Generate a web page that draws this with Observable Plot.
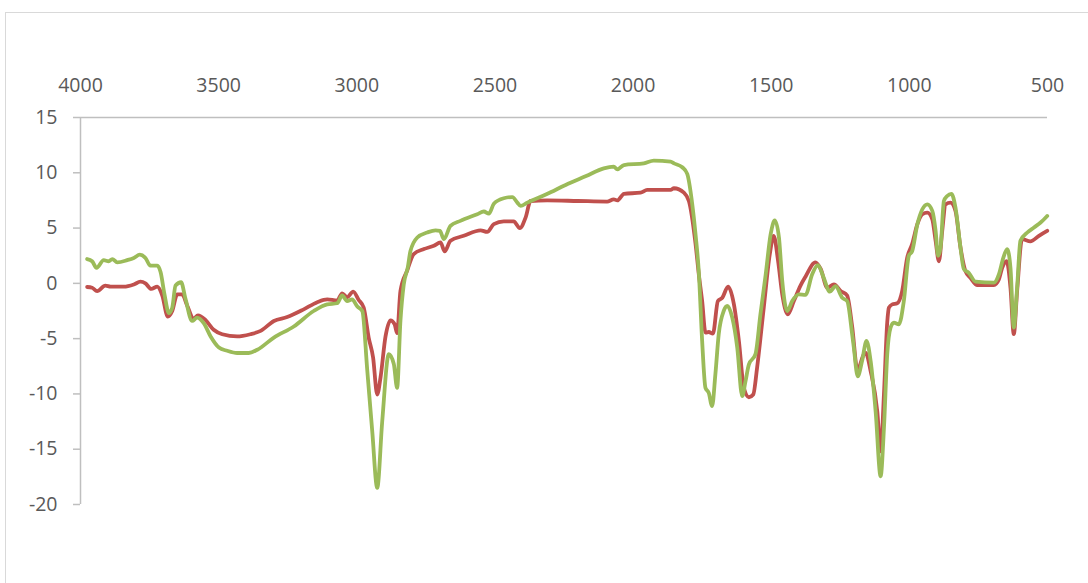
<!DOCTYPE html>
<html><head><meta charset="utf-8">
<script src="https://cdn.jsdelivr.net/npm/d3@7"></script>
<script src="https://cdn.jsdelivr.net/npm/@observablehq/plot@0.6"></script>
<style>
body{margin:0;background:#fff;overflow:hidden;width:1088px;height:583px}
#frame{position:absolute;left:5px;top:12px;width:1200px;height:700px;border:1px solid #d9d9d9;}
#chart{position:absolute;left:0;top:0}
</style></head><body>
<div id="frame"></div><div id="chart"></div>
<script>
const xTicks = [4000, 3500, 3000, 2500, 2000, 1500, 1000, 500];
const yTicks = [15, 10, 5, 0, -5, -10, -15, -20];

const redX = [3976,3958,3940,3910,3891,3843,3807,3783,3765,3744,3722,3704,3684,3668,3650,3632,3614,3590,3575,3548,3518,3487,3433,3385,3348,3300,3252,3192,3143,3107,3071,3053,3035,3013,2993,2975,2957,2941,2926,2914,2896,2878,2863,2854,2842,2817,2794,2757,2721,2697,2682,2661,2613,2552,2528,2504,2468,2432,2410,2389,2371,2311,2200,2094,2070,2057,2033,1973,1949,1864,1852,1816,1798,1774,1762,1750,1738,1726,1711,1693,1677,1656,1635,1617,1599,1581,1565,1551,1527,1505,1491,1475,1460,1440,1418,1394,1376,1340,1321,1297,1273,1248,1225,1207,1188,1164,1158,1140,1116,1104,1092,1080,1074,1062,1044,1026,1008,990,971,953,935,917,905,893,881,869,851,833,815,797,779,754,694,676,664,648,634,622,610,592,562,531,501];
const redY = [-0.33,-0.4,-0.7,-0.2,-0.3,-0.3,-0.1,0.15,0.0,-0.5,-0.3,-1.1,-3.0,-2.5,-1.0,-1.0,-2.0,-3.2,-2.9,-3.3,-4.2,-4.6,-4.8,-4.6,-4.3,-3.4,-3.05,-2.35,-1.7,-1.45,-1.55,-0.9,-1.25,-0.75,-1.5,-2.2,-4.9,-6.7,-10.05,-8.5,-4.8,-3.35,-3.7,-4.5,-0.7,1.2,2.65,3.1,3.4,3.7,2.9,3.85,4.3,4.8,4.65,5.35,5.6,5.6,5.0,5.95,7.45,7.5,7.45,7.4,7.6,7.5,8.1,8.2,8.45,8.45,8.6,8.2,7.45,3.6,0.8,-1.6,-4.45,-4.4,-4.55,-1.6,-1.3,-0.3,-1.9,-5.2,-9.45,-10.3,-10.05,-7.6,-2.2,2.65,4.3,2.0,-1.0,-2.8,-1.6,-0.2,0.6,1.9,1.3,-0.4,-0.1,-0.7,-1.1,-3.9,-7.8,-6.4,-6.3,-7.95,-11.6,-15.2,-10.05,-3.5,-2.2,-1.9,-1.8,-0.7,2.3,3.55,5.35,6.25,6.4,5.8,3.85,2.0,4.75,7.15,7.3,6.55,3.25,1.1,0.5,-0.15,-0.15,0.35,1.4,2.0,-0.4,-4.6,-0.7,4.0,3.8,4.3,4.75];

const greenX = [3976,3958,3942,3916,3898,3885,3867,3831,3807,3785,3765,3747,3722,3710,3696,3680,3668,3656,3636,3620,3596,3578,3554,3529,3499,3469,3433,3391,3360,3300,3228,3156,3107,3071,3053,3035,3017,2998,2980,2962,2944,2926,2908,2884,2866,2854,2842,2830,2815,2806,2781,2745,2715,2699,2685,2661,2625,2564,2540,2522,2504,2468,2437,2419,2407,2383,2310,2244,2170,2106,2070,2057,2033,1961,1925,1864,1852,1822,1804,1786,1774,1762,1750,1738,1726,1714,1702,1690,1672,1659,1641,1623,1605,1593,1581,1557,1539,1520,1502,1487,1472,1460,1442,1424,1400,1376,1352,1331,1310,1288,1267,1243,1225,1207,1201,1187,1171,1155,1140,1122,1104,1092,1080,1068,1056,1038,1020,1002,990,971,953,935,917,905,896,887,875,863,848,833,815,803,785,760,694,676,660,646,634,622,610,598,573,549,525,501];
const greenY = [2.2,2.0,1.4,2.1,2.0,2.2,1.9,2.1,2.3,2.6,2.3,1.6,1.6,1.0,-1.0,-2.7,-2.2,-0.2,0.1,-1.4,-3.4,-3.1,-3.6,-4.8,-5.8,-6.1,-6.3,-6.3,-6.0,-4.9,-3.9,-2.5,-1.9,-1.8,-1.1,-1.6,-1.45,-2.1,-2.5,-7.9,-13.4,-18.5,-12.5,-6.4,-7.3,-9.45,-3.4,-0.1,1.5,2.9,4.15,4.6,4.8,4.75,4.0,5.2,5.65,6.25,6.5,6.3,7.2,7.7,7.8,7.3,7.0,7.3,8.1,8.9,9.7,10.4,10.55,10.3,10.7,10.85,11.1,11.0,10.85,10.5,9.9,7.2,4.45,1.0,-5.2,-9.45,-9.9,-11.1,-8.2,-4.6,-2.5,-2.05,-3.1,-5.8,-10.2,-8.85,-7.35,-6.4,-2.8,0.8,4.45,5.7,4.15,0.2,-2.5,-1.6,-1.0,-1.05,0.8,1.65,0.5,-0.75,-0.25,-1.3,-1.6,-4.6,-5.8,-8.4,-7.0,-5.2,-7.05,-11.6,-17.45,-13.1,-6.4,-4.0,-3.55,-3.7,-1.6,2.5,2.9,5.35,6.7,7.15,6.55,4.75,2.5,3.25,7.45,7.9,8.1,6.85,3.25,1.3,0.95,0.15,0.06,0.8,2.3,3.1,1.4,-4.0,-0.4,3.85,4.6,5.05,5.5,6.1];

const red = redX.map((x, i) => ({x, y: redY[i]}));
const green = greenX.map((x, i) => ({x, y: greenY[i]}));

const chart = Plot.plot({
  width: 1088,
  height: 583,
  marginLeft: 80,
  marginRight: 41,
  marginTop: 117,
  marginBottom: 79,
  x: {domain: [4000, 500]},
  y: {domain: [-20, 15]},
  style: {fontFamily: "'Open Sans', sans-serif", fontSize: "19.5px", color: "#595959", background: "transparent"},
  marks: [
    Plot.ruleY([15], {stroke: "#bfbfbf", strokeWidth: 1.5}),
    Plot.ruleX([4000], {stroke: "#bfbfbf", strokeWidth: 1.5}),
    Plot.axisX({anchor: "top", ticks: xTicks, tickSize: 0, tickPadding: 26, label: null, tickFormat: d => String(d), fill: "#595959"}),
    Plot.axisY({anchor: "left", ticks: yTicks, tickSize: 7, tickPadding: 16, label: null, tickFormat: d => String(d), stroke: "#bfbfbf", strokeWidth: 1.5, fill: "#595959"}),
    Plot.line(red, {x: "x", y: "y", stroke: "#C0504D", strokeWidth: 3.8, curve: "monotone-x"}),
    Plot.line(green, {x: "x", y: "y", stroke: "#9BBB59", strokeWidth: 3.8, curve: "monotone-x"})
  ]
});
document.getElementById("chart").appendChild(chart);
</script>
</body></html>
